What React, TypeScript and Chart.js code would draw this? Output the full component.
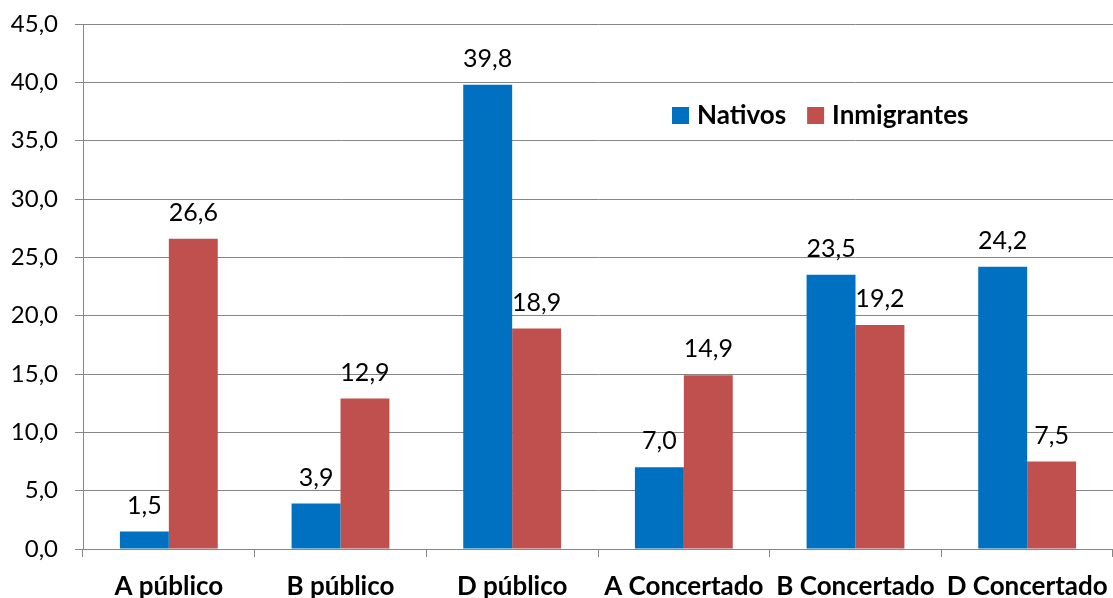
import React, { useEffect, useRef } from "react";
import { Chart, registerables } from "chart.js";

Chart.register(...registerables);

const categories = ["A público", "B público", "D público", "A Concertado", "B Concertado", "D Concertado"];
const nativos = [1.5, 3.9, 39.8, 7.0, 23.5, 24.2];
const inmigrantes = [26.6, 12.9, 18.9, 14.9, 19.2, 7.5];
const seriesNames = ["Nativos", "Inmigrantes"];
const seriesColors = ["#0070C0", "#C0504D"];

const FONT = "Lato, 'Open Sans', sans-serif";
const GRID = "#868686";

const fmt = (v: number) => v.toFixed(1).replace(".", ",");

const labelPlugin = {
  id: "barLabels",
  afterDatasetsDraw(chart: any) {
    const ctx = chart.ctx;
    ctx.save();
    ctx.font = `25px ${FONT}`;
    ctx.fillStyle = "#000";
    ctx.textAlign = "center";
    ctx.textBaseline = "alphabetic";
    chart.data.datasets.forEach((ds: any, di: number) => {
      const meta = chart.getDatasetMeta(di);
      meta.data.forEach((el: any, i: number) => {
        ctx.fillText(fmt(ds.data[i]), el.x, el.y - 18);
      });
    });
    ctx.restore();
  },
};

const legendPlugin = {
  id: "innerLegend",
  afterDraw(chart: any) {
    const ctx = chart.ctx;
    const area = chart.chartArea;
    ctx.save();
    ctx.font = `bold 26px ${FONT}`;
    ctx.textBaseline = "middle";
    ctx.textAlign = "left";
    let x = area.left + 589;
    const y = 115;
    chart.data.datasets.forEach((ds: any) => {
      ctx.fillStyle = ds.backgroundColor;
      ctx.fillRect(x, y - 8, 17, 17);
      x += 25;
      ctx.fillStyle = "#000";
      ctx.fillText(ds.label, x, y + 1);
      x += ctx.measureText(ds.label).width + 21;
    });
    ctx.restore();
  },
};

const noPad = (s: any) => {
  s.paddingTop = 0;
  s.paddingBottom = 0;
  s.paddingLeft = 0;
  s.paddingRight = 0;
};

export default function App() {
  const ref = useRef<HTMLCanvasElement>(null);
  useEffect(() => {
    if (!ref.current) return;
    const chart = new Chart(ref.current, {
      type: "bar",
      data: {
        labels: categories,
        datasets: [
          { label: seriesNames[0], data: nativos, backgroundColor: seriesColors[0] },
          { label: seriesNames[1], data: inmigrantes, backgroundColor: seriesColors[1] },
        ],
      },
      options: {
        animation: false,
        responsive: true,
        maintainAspectRatio: false,
        layout: { padding: { top: 24, right: 0, left: 0, bottom: 0 } },
        datasets: { bar: { categoryPercentage: 0.57, barPercentage: 1.0 } },
        plugins: { legend: { display: false }, tooltip: { enabled: false } },
        scales: {
          x: {
            grid: { display: true, drawOnChartArea: false, tickLength: 8, color: GRID, offset: true },
            border: { display: true, color: GRID, width: 1 },
            ticks: { color: "#000", font: { family: FONT, size: 26, weight: "bold" }, padding: 14, maxRotation: 0, autoSkip: false },
            afterFit: (s: any) => { s.height = 49; noPad(s); },
          },
          y: {
            min: 0,
            max: 45,
            grid: { color: GRID, tickLength: 8 },
            border: { display: true, color: GRID, width: 1 },
            ticks: { stepSize: 5, color: "#000", font: { family: FONT, size: 24 }, padding: 17, callback: (v: any) => fmt(Number(v)) },
            afterFit: (s: any) => { s.width = 83; noPad(s); },
          },
        },
      },
      plugins: [labelPlugin, legendPlugin],
    });
    return () => chart.destroy();
  }, []);
  return (
    <div style={{ position: "absolute", left: 0, top: 0, width: 1113, height: 598 }}>
      <canvas ref={ref} />
    </div>
  );
}
